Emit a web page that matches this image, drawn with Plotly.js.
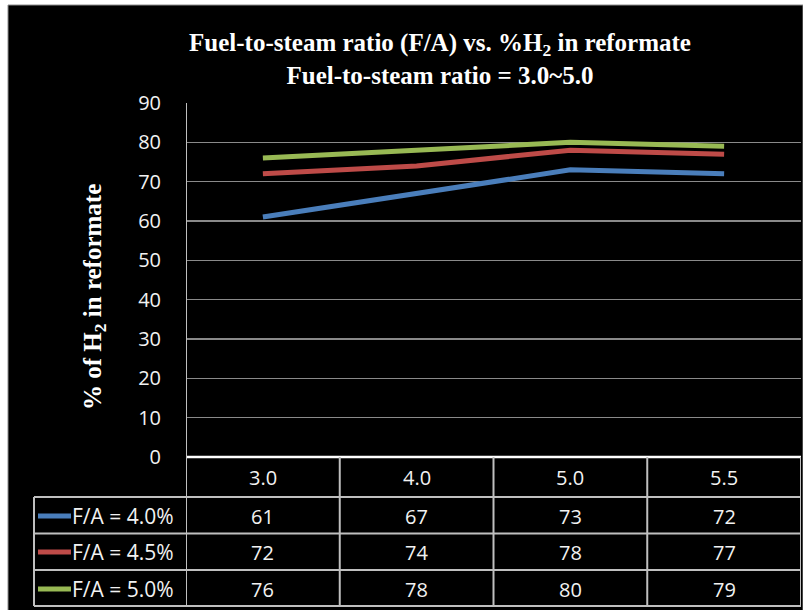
<!DOCTYPE html>
<html>
<head>
<meta charset="utf-8">
<script src="https://cdn.plot.ly/plotly-3.0.1.min.js"></script>
<style>html,body{margin:0;padding:0;background:#fff;}#chart{width:803px;height:610px;}</style>
</head>
<body>
<div id="chart"></div>
<script>
var categories = ["3.0", "4.0", "5.0", "5.5"];
var seriesNames = ["F/A = 4.0%", "F/A = 4.5%", "F/A = 5.0%"];
var fa40 = [61, 67, 73, 72];
var fa45 = [72, 74, 78, 77];
var fa50 = [76, 78, 80, 79];
var seriesColors = ["#4a7ebb", "#be4b48", "#98b954"];
var yTicks = [0, 10, 20, 30, 40, 50, 60, 70, 80, 90];

var seriesValues = [fa40, fa45, fa50];

// layout geometry (pixels)
var W = 803, H = 610;
var mL = 186, mR = 2, mT = 103, mB = 153;
var pw = W - mL - mR, ph = H - mT - mB;
function px(x) { return (x - mL) / pw; }
function py(y) { return (H - mB - y) / ph; }

var traces = seriesValues.map(function (vals, i) {
  return {
    type: "scatter", mode: "lines",
    x: categories, y: vals, name: seriesNames[i],
    line: { color: seriesColors[i], width: 5 },
    showlegend: false, hoverinfo: "skip"
  };
});

var cellFont = { family: "'Open Sans', Lato, sans-serif", size: 20, color: "#f2f2f2" };
var legendFont = { family: "'Open Sans', Lato, sans-serif", size: 21, color: "#f2f2f2" };
var borderCol = "#bfbfbf";

var shapes = [];
var annotations = [];

// outer black frame
shapes.push({ type: "rect", xref: "paper", yref: "paper", layer: "below",
  x0: px(8), x1: px(803), y0: py(5), y1: py(612),
  fillcolor: "#000", line: { color: "#8c8c8c", width: 1 } });

// table header top (white)
shapes.push({ type: "line", xref: "paper", yref: "paper",
  x0: 0, x1: 1, y0: 0, y1: 0, line: { color: "#ffffff", width: 2.5 } });

// row lines
var rowLines = [497, 533.5, 570, 606];
rowLines.forEach(function (y) {
  shapes.push({ type: "line", xref: "paper", yref: "paper",
    x0: px(34), x1: 1, y0: py(y), y1: py(y), line: { color: borderCol, width: 2 } });
});
// vertical column separators (category boundaries)
for (var c = 0; c <= categories.length; c++) {
  shapes.push({ type: "line", xref: "x", yref: "paper",
    x0: c - 0.5, x1: c - 0.5, y0: py(606), y1: c === 0 ? 1 : 0,
    line: { color: borderCol, width: 2 } });
}
// legend column left border
shapes.push({ type: "line", xref: "paper", yref: "paper",
  x0: px(34), x1: px(34), y0: py(497), y1: py(606), line: { color: borderCol, width: 2 } });

// header cells
var headerY = py(477);
categories.forEach(function (cat, i) {
  annotations.push({ xref: "x", yref: "paper", x: i, y: headerY, text: cat,
    showarrow: false, font: cellFont, xanchor: "center", yanchor: "middle" });
});

// data rows
var rowCenters = [516, 552, 589];
seriesValues.forEach(function (vals, r) {
  var yy = py(rowCenters[r]);
  vals.forEach(function (v, i) {
    annotations.push({ xref: "x", yref: "paper", x: i, y: yy, text: String(v),
      showarrow: false, font: cellFont, xanchor: "center", yanchor: "middle" });
  });
  // legend key
  shapes.push({ type: "line", xref: "paper", yref: "paper",
    x0: px(38), x1: px(71), y0: yy, y1: yy, line: { color: seriesColors[r], width: 5 } });
  annotations.push({ xref: "paper", yref: "paper", x: px(70), y: yy, text: seriesNames[r],
    showarrow: false, font: legendFont, xanchor: "left", yanchor: "middle" });
});

// y axis title
annotations.push({ xref: "paper", yref: "paper", x: px(94), y: py(297),
  text: "% of H<sub>2</sub> in reformate", textangle: -90, showarrow: false,
  font: { family: "'Liberation Serif', 'DejaVu Serif', serif", size: 25, color: "#ffffff", weight: "bold" },
  xanchor: "center", yanchor: "middle" });

var layout = {
  width: W, height: H,
  margin: { l: mL, r: mR, t: mT, b: mB, pad: 0 },
  paper_bgcolor: "#ffffff",
  plot_bgcolor: "#404040",
  title: {
    text: "<b>Fuel-to-steam ratio (F/A) vs. %H<sub>2</sub> in reformate<br>Fuel-to-steam ratio = 3.0~5.0</b>",
    font: { family: "'Liberation Serif', 'Times New Roman', serif", size: 25, color: "#ffffff" },
    x: 440 / W, xanchor: "center", xref: "container",
    y: 1 - 51 / H, yanchor: "middle", yref: "container"
  },
  xaxis: {
    type: "category", range: [-0.5, categories.length - 0.5],
    showticklabels: false, showgrid: false, zeroline: false, showline: false, ticks: ""
  },
  yaxis: {
    range: [0, 90], tickvals: yTicks, ticktext: yTicks.map(String),
    showgrid: true, gridcolor: "#8a8a8a", gridwidth: 1.5,
    zeroline: false, showline: false, ticks: "",
    ticklabelstandoff: 24,
    tickfont: { family: "'Open Sans', Lato, sans-serif", size: 20, color: "#f2f2f2" }
  },
  shapes: shapes,
  annotations: annotations,
  showlegend: false
};

Plotly.newPlot("chart", traces, layout, { displayModeBar: false, staticPlot: true });
</script>
</body>
</html>
